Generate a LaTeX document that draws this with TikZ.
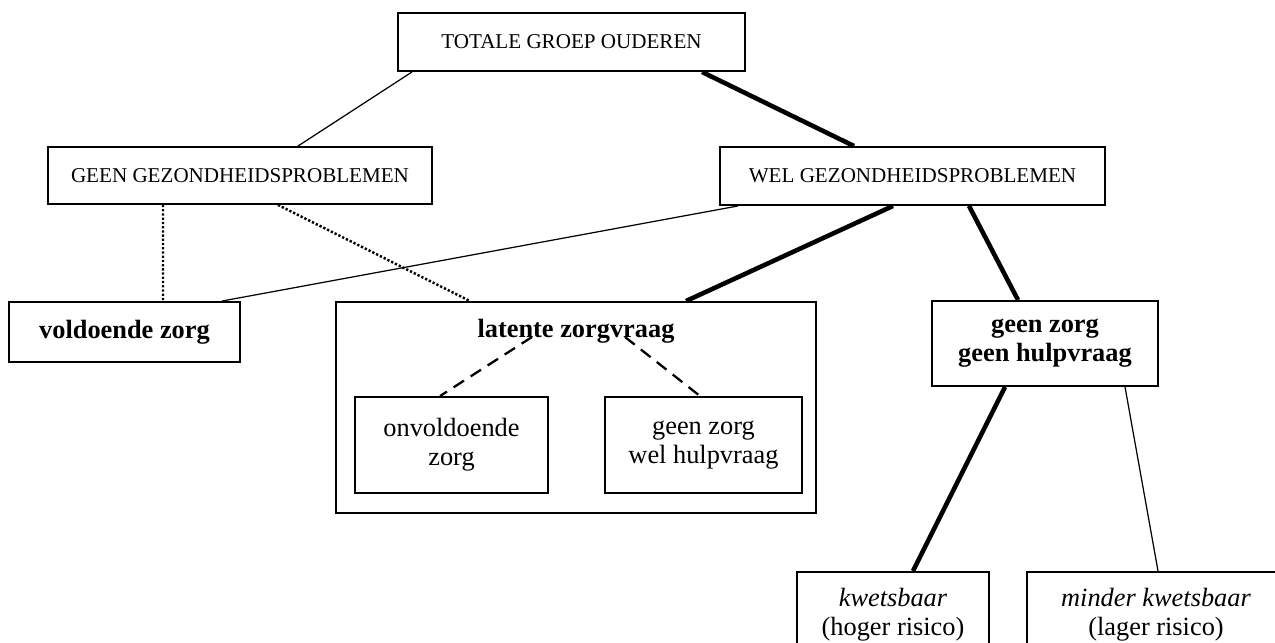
\documentclass[tikz,border=0pt]{standalone}
\usepackage{fontspec}
\setmainfont{Liberation Serif}
\usepackage{tikz}

\begin{document}
\begin{tikzpicture}[x=1cm,y=1cm,
  box/.style={draw,line width=1.1pt,inner sep=0pt,align=center,font=\fontsize{15}{16.5}\selectfont},
  capsbox/.style={box,font=\fontsize{12}{14}\selectfont},
  thinline/.style={line width=0.7pt},
  thickline/.style={line width=2.6pt},
  dotline/.style={line width=1.4pt,dash pattern=on 1.3pt off 1.1pt},
  dashline/.style={line width=1.3pt,dash pattern=on 7pt off 4.5pt}]
\useasboundingbox (0,0) rectangle (25.5,12.84);
\node[capsbox,minimum width=6.94cm,minimum height=1.16cm] (tot) at (11.43,12.00) {TOTALE GROEP OUDEREN};
\node[capsbox,minimum width=7.68cm,minimum height=1.14cm] (geen) at (4.80,9.33) {GEEN GEZONDHEIDSPROBLEMEN};
\node[capsbox,minimum width=7.70cm,minimum height=1.16cm] (wel) at (18.25,9.32) {WEL GEZONDHEIDSPROBLEMEN};
\node[box,minimum width=4.62cm,minimum height=1.20cm] (vold) at (2.49,6.20) {\textbf{voldoende zorg}};
\node[box,minimum width=9.60cm,minimum height=4.22cm] (lat) at (11.52,4.69) {};
\node[font=\fontsize{15}{16.5}\selectfont,inner sep=0pt,anchor=base] (lattext) at (11.52,6.10) {\textbf{latente zorgvraag}};
\node[box,minimum width=3.86cm,minimum height=1.92cm] (onv) at (9.03,3.94) {onvoldoende\\zorg};
\node[box,minimum width=3.94cm,minimum height=1.92cm] (gzwh) at (14.07,3.94) {geen zorg\\wel hulpvraag};
\node[box,minimum width=4.52cm,minimum height=1.70cm] (gzgh) at (20.90,5.97) {\textbf{geen zorg}\\\textbf{geen hulpvraag}};
\node[box,minimum width=3.84cm,inner ysep=0.32cm,anchor=north] (kw) at (17.86,1.42) {\textit{kwetsbaar}\\(hoger risico)};
\node[box,minimum width=5.16cm,inner ysep=0.32cm,anchor=north] (mkw) at (23.12,1.42) {\textit{minder kwetsbaar}\\(lager risico)};
% connectors
\draw[thinline] ([xshift=-3.19cm]tot.south) -- ([xshift=1.16cm]geen.north);
\draw[thickline] ([xshift=2.61cm]tot.south) -- ([xshift=-1.17cm]wel.north);
\draw[dotline] ([xshift=-1.54cm]geen.south) -- ([xshift=0.77cm]vold.north);
\draw[dotline] ([xshift=0.76cm]geen.south) -- ([xshift=-2.12cm]lat.north);
\draw[thinline] ([xshift=-3.49cm]wel.south) -- ([xshift=1.95cm]vold.north);
\draw[thickline] ([xshift=-0.39cm]wel.south) -- ([xshift=2.2cm]lat.north);
\draw[thickline] ([xshift=1.13cm]wel.south) -- ([xshift=-0.54cm]gzgh.north);
\draw[dashline] ([xshift=-0.88cm]lattext.base) -- ([xshift=-0.23cm]onv.north);
\draw[dashline] ([xshift=0.98cm]lattext.base) -- ([xshift=-0.07cm]gzwh.north);
\draw[thickline] ([xshift=-0.8cm]gzgh.south) -- ([xshift=0.4cm]kw.north);
\draw[thinline] ([xshift=1.6cm]gzgh.south) -- ([xshift=0.04cm]mkw.north);
\end{tikzpicture}
\end{document}
